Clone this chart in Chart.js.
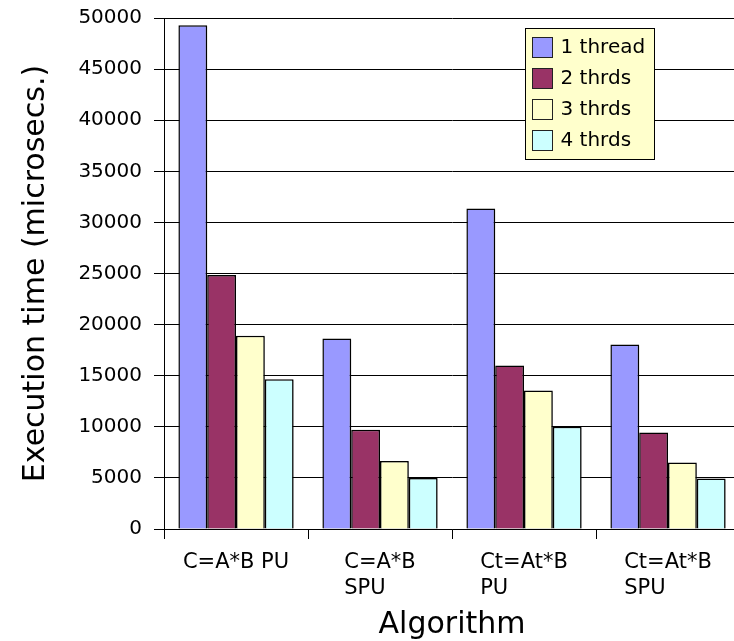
<!DOCTYPE html>
<html>
<head>
<meta charset="utf-8">
<title>Execution time by algorithm</title>
<script src="https://cdn.jsdelivr.net/npm/chart.js@4.4.1/dist/chart.umd.min.js"></script>
<style>
  html, body { margin: 0; padding: 0; background: #ffffff; overflow: hidden; }
  #wrap { width: 734px; height: 641px; overflow: hidden; }
  canvas { display: block; }
</style>
</head>
<body>
<div id="wrap"><canvas id="c" width="741" height="641"></canvas></div>
<script>
// Category labels (each entry is a list of lines)
const categories = [
  ['C=A*B PU'],
  ['C=A*B', 'SPU'],
  ['Ct=At*B', 'PU'],
  ['Ct=At*B', 'SPU']
];

// Execution times in microseconds for each thread count
const oneThread   = [49300, 18650, 31350, 18050];
const twoThreads  = [24850,  9700, 16000,  9450];
const threeThreads= [18900,  6650, 13550,  6500];
const fourThreads = [14650,  5000, 10000,  4950];

const seriesNames = ['1 thread', '2 thrds', '3 thrds', '4 thrds'];
const seriesColors = ['#9999ff', '#993366', '#ffffcc', '#ccffff'];

// Y axis range and step
const yMin = 0;
const yMax = 50000;
const yStep = 5000;

const FONT = '"DejaVu Sans", "Liberation Sans", sans-serif';

// Draws the multi-line category labels, lines left-aligned inside a centred block
const categoryLabels = {
  id: 'categoryLabels',
  afterDraw(chart) {
    const ctx = chart.ctx;
    const xs = chart.scales.x;
    const size = 21;
    const lineGap = 26;
    ctx.save();
    ctx.font = size + 'px ' + FONT;
    ctx.fillStyle = '#000';
    ctx.textAlign = 'left';
    ctx.textBaseline = 'alphabetic';
    categories.forEach((lines, i) => {
      const cx = xs.getPixelForValue(i);
      const w = Math.max(...lines.map(l => ctx.measureText(l).width));
      const x0 = cx - w / 2;
      lines.forEach((line, j) => {
        ctx.fillText(line, x0, chart.chartArea.bottom + 39 + j * lineGap);
      });
    });
    ctx.restore();
  }
};

// Thin offset shadow on the right/bottom of the bars
const barShadow = {
  id: 'barShadow',
  beforeDatasetsDraw(chart) {
    const ctx = chart.ctx;
    ctx.save();
    ctx.shadowColor = 'rgba(0,0,0,0.25)';
    ctx.shadowOffsetX = 1;
    ctx.shadowOffsetY = 1;
    ctx.shadowBlur = 0;
  },
  afterDatasetsDraw(chart) {
    chart.ctx.restore();
  }
};

// Boxed legend inside the plot area
const boxLegend = {
  id: 'boxLegend',
  afterDatasetsDraw(chart) {
    const ctx = chart.ctx;
    const area = chart.chartArea;
    const bx = Math.round(area.left + 361) + 0.5;
    const by = Math.round(area.top + 10) + 0.5;
    const bw = 129, bh = 131;
    ctx.save();
    ctx.fillStyle = '#ffffcc';
    ctx.fillRect(bx, by, bw, bh);
    ctx.strokeStyle = '#000';
    ctx.lineWidth = 1;
    ctx.strokeRect(bx, by, bw, bh);
    ctx.font = '20px ' + FONT;
    ctx.textAlign = 'left';
    ctx.textBaseline = 'middle';
    chart.data.datasets.forEach((ds, i) => {
      const sy = by + 9 + i * 31;
      ctx.fillStyle = ds.backgroundColor;
      ctx.fillRect(bx + 7, sy, 20, 20);
      ctx.strokeStyle = '#222';
      ctx.strokeRect(bx + 7, sy, 20, 20);
      ctx.fillStyle = '#000';
      ctx.fillText(ds.label, bx + 35, sy + 10);
    });
    ctx.restore();
  }
};

const seriesValues = [oneThread, twoThreads, threeThreads, fourThreads];

new Chart(document.getElementById('c'), {
  type: 'bar',
  data: {
    labels: categories.map(l => l.join(' ')),
    datasets: seriesValues.map((vals, i) => ({
      label: seriesNames[i],
      data: vals,
      backgroundColor: seriesColors[i],
      borderColor: '#000',
      borderWidth: 1.5,
      categoryPercentage: 0.8,
      barPercentage: 1.0
    }))
  },
  options: {
    responsive: false,
    animation: false,
    devicePixelRatio: 1,
    layout: { padding: { left: 0, right: 1, top: 18, bottom: 0 } },
    plugins: {
      legend: { display: false },
      tooltip: { enabled: false },
      title: { display: false }
    },
    scales: {
      x: {
        offset: true,
        grid: {
          offset: true,
          drawOnChartArea: false,
          drawTicks: true,
          tickLength: 10,
          color: '#000',
          lineWidth: 1
        },
        border: { display: true, color: '#000', width: 1 },
        ticks: { display: false },
        title: {
          display: true,
          text: 'Algorithm',
          color: '#000',
          font: { family: FONT, size: 30 },
          padding: { top: 0, bottom: -2 }
        },
        afterFit(scale) { scale.height = 112; }
      },
      y: {
        min: yMin,
        max: yMax,
        grid: {
          color: '#000',
          lineWidth: 1,
          drawTicks: true,
          tickLength: 10,
          tickColor: '#000'
        },
        border: { display: true, color: '#000', width: 1 },
        ticks: {
          stepSize: yStep,
          color: '#000',
          padding: 12,
          font: { family: FONT, size: 20 },
          callback: v => String(v)
        },
        title: {
          display: true,
          text: 'Execution time (microsecs.)',
          color: '#000',
          font: { family: FONT, size: 30 },
          padding: { top: 18, bottom: 0 }
        },
        afterFit(scale) {
          scale.width = 164;
          scale.paddingTop = 0;
          scale.paddingBottom = 0;
        }
      }
    }
  },
  plugins: [barShadow, boxLegend, categoryLabels]
});
</script>
</body>
</html>
